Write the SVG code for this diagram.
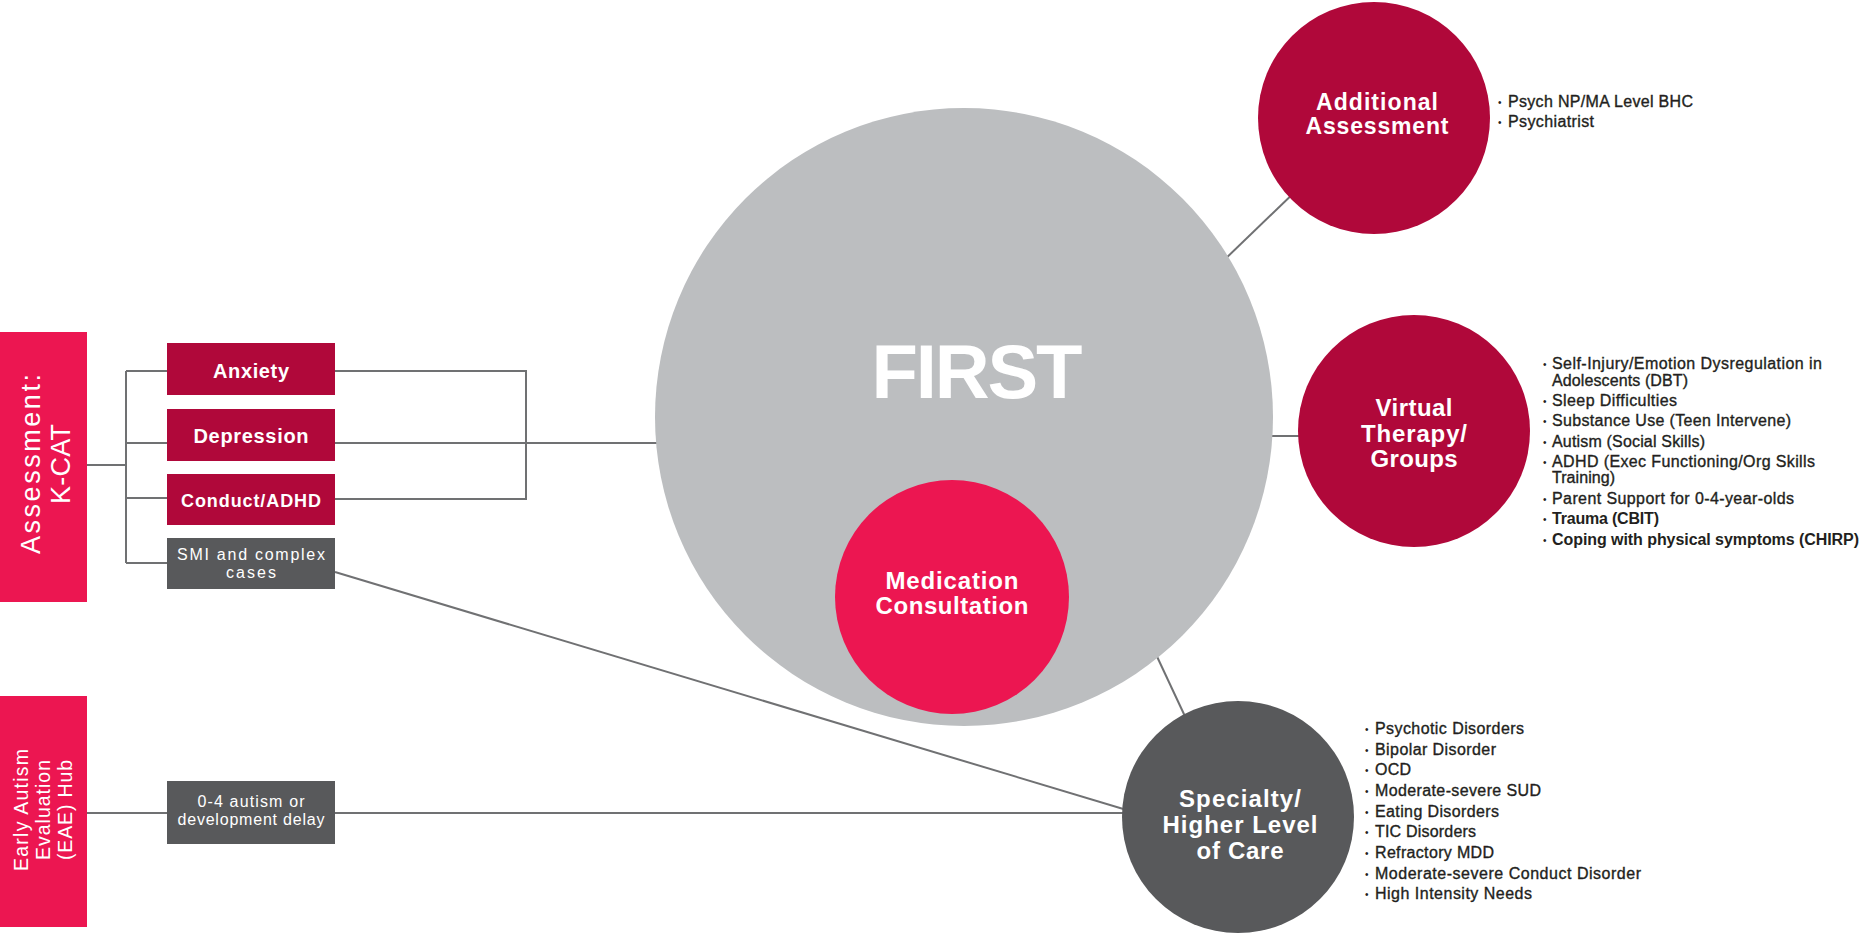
<svg xmlns="http://www.w3.org/2000/svg" width="1862" height="933" viewBox="0 0 1862 933">
  <style>
    .ln { fill: none; stroke: #707173; stroke-width: 2; }
    .crim { fill: #B0083A; }
    .red { fill: #EC1651; }
    .dk { fill: #58595B; }
    .lt { fill: #BCBEC0; }
    .w { fill: #FFFFFF; font-family: "Liberation Sans", Arial, sans-serif; }
    .m { text-anchor: middle; }
    .b { font-weight: bold; }
    .li { fill: #231F20; stroke: #231F20; stroke-width: 0.35; font-family: "Liberation Sans", Arial, sans-serif; font-size: 16px; }
    .li.b { stroke-width: 0; }
    .bu { fill: #231F20; font-family: "Liberation Sans", Arial, sans-serif; font-size: 10px; }
  </style>
  <rect width="1862" height="933" fill="#FFFFFF"/>

  <!-- connectors -->
  <g id="connectors">
    <path class="ln" d="M87,465 H126 M126,371 V563 M126,371 H167 M126,443 H167 M126,498 H167 M126,563 H167"/>
    <path class="ln" d="M335,371 H526 V499 H335 M335,443 H670"/>
    <path class="ln" d="M335,572 L1140,814"/>
    <path class="ln" d="M87,813 H167 M335,813 H1140"/>
    <path class="ln" d="M1220,264 L1300,187"/>
    <path class="ln" d="M1260,436 H1310"/>
    <path class="ln" d="M1153,648 L1190,727"/>
  </g>

  <!-- assessment entry -->
  <g id="kcat">
    <rect class="red" x="0" y="332" width="87" height="270"/>
    <g transform="translate(40,464) rotate(-90)">
      <text class="w m" font-size="27" textLength="180">Assessment:</text>
      <text class="w m" y="30" font-size="27" textLength="80">K-CAT</text>
    </g>
  </g>

  <g id="eae">
    <rect class="red" x="0" y="696" width="87" height="231"/>
    <g transform="translate(28,810) rotate(-90)">
      <text class="w m" font-size="19.5" textLength="122">Early Autism</text>
      <text class="w m" y="22" font-size="19.5" textLength="100">Evaluation</text>
      <text class="w m" y="44" font-size="19.5" textLength="100">(EAE) Hub</text>
    </g>
  </g>

  <!-- condition boxes -->
  <g id="anxiety">
    <rect class="crim" x="167" y="343" width="168" height="52"/>
    <text class="w m b" x="251" y="378" font-size="20" textLength="76">Anxiety</text>
  </g>
  <g id="depression">
    <rect class="crim" x="167" y="409" width="168" height="52"/>
    <text class="w m b" x="251" y="443" font-size="20" textLength="115">Depression</text>
  </g>
  <g id="conduct">
    <rect class="crim" x="167" y="474" width="168" height="51"/>
    <text class="w m b" x="251" y="507" font-size="18" textLength="140">Conduct/ADHD</text>
  </g>
  <g id="smi">
    <rect class="dk" x="167" y="538" width="168" height="51"/>
    <text class="w m" x="251" y="559.5" font-size="16" textLength="148">SMI and complex</text>
    <text class="w m" x="251" y="578" font-size="16" textLength="50">cases</text>
  </g>
  <g id="early-delay">
    <rect class="dk" x="167" y="781" width="168" height="63"/>
    <text class="w m" x="251" y="807" font-size="16" textLength="107">0-4 autism or</text>
    <text class="w m" x="251" y="825" font-size="16" textLength="147">development delay</text>
  </g>

  <!-- central service -->
  <g id="first">
    <circle class="lt" cx="964" cy="417" r="309"/>
    <text class="w m b" x="977" y="398" font-size="76" textLength="211">FIRST</text>
  </g>
  <g id="medication">
    <circle class="red" cx="952" cy="597" r="117"/>
    <text class="w m b" x="952" y="589" font-size="24" textLength="133">Medication</text>
    <text class="w m b" x="952" y="614" font-size="24" textLength="153">Consultation</text>
  </g>

  <!-- additional assessment -->
  <g id="additional">
    <circle class="crim" cx="1374" cy="118" r="116"/>
    <text class="w m b" x="1377" y="110" font-size="23" textLength="122">Additional</text>
    <text class="w m b" x="1377" y="134" font-size="23" textLength="143">Assessment</text>
    <text class="bu" x="1498" y="106">•</text>
    <text class="li" x="1508" y="107" textLength="185">Psych NP/MA Level BHC</text>
    <text class="bu" x="1498" y="126">•</text>
    <text class="li" x="1508" y="127" textLength="86">Psychiatrist</text>
  </g>

  <!-- virtual therapy -->
  <g id="virtual">
    <circle class="crim" cx="1414" cy="431" r="116"/>
    <text class="w m b" x="1414" y="416" font-size="24" textLength="77">Virtual</text>
    <text class="w m b" x="1414" y="442" font-size="24" textLength="106">Therapy/</text>
    <text class="w m b" x="1414" y="467" font-size="24" textLength="87">Groups</text>
    <text class="bu" x="1543" y="368">•</text>
    <text class="li" x="1552" y="369" textLength="270">Self-Injury/Emotion Dysregulation in</text>
    <text class="li" x="1552" y="386" textLength="136">Adolescents (DBT)</text>
    <text class="bu" x="1543" y="405">•</text>
    <text class="li" x="1552" y="406" textLength="125">Sleep Difficulties</text>
    <text class="bu" x="1543" y="425">•</text>
    <text class="li" x="1552" y="426" textLength="239">Substance Use (Teen Intervene)</text>
    <text class="bu" x="1543" y="446">•</text>
    <text class="li" x="1552" y="447" textLength="153">Autism (Social Skills)</text>
    <text class="bu" x="1543" y="466">•</text>
    <text class="li" x="1552" y="467" textLength="263">ADHD (Exec Functioning/Org Skills</text>
    <text class="li" x="1552" y="483" textLength="63">Training)</text>
    <text class="bu" x="1543" y="503">•</text>
    <text class="li" x="1552" y="504" textLength="242">Parent Support for 0-4-year-olds</text>
    <text class="bu" x="1543" y="523">•</text>
    <text class="li b" x="1552" y="524" font-size="15.5" textLength="107">Trauma (CBIT)</text>
    <text class="bu" x="1543" y="544">•</text>
    <text class="li b" x="1552" y="545" font-size="15.5" textLength="307">Coping with physical symptoms (CHIRP)</text>
  </g>

  <!-- specialty care -->
  <g id="specialty">
    <circle class="dk" cx="1238" cy="817" r="116"/>
    <text class="w m b" x="1240" y="807" font-size="24" textLength="122">Specialty/</text>
    <text class="w m b" x="1240" y="833" font-size="24" textLength="155">Higher Level</text>
    <text class="w m b" x="1240" y="859" font-size="24" textLength="87">of Care</text>
    <text class="bu" x="1365" y="733">•</text>
    <text class="li" x="1375" y="734" textLength="149">Psychotic Disorders</text>
    <text class="bu" x="1365" y="754">•</text>
    <text class="li" x="1375" y="755" textLength="121">Bipolar Disorder</text>
    <text class="bu" x="1365" y="774">•</text>
    <text class="li" x="1375" y="775" textLength="36">OCD</text>
    <text class="bu" x="1365" y="795">•</text>
    <text class="li" x="1375" y="796" textLength="166">Moderate-severe SUD</text>
    <text class="bu" x="1365" y="816">•</text>
    <text class="li" x="1375" y="817" textLength="124">Eating Disorders</text>
    <text class="bu" x="1365" y="836">•</text>
    <text class="li" x="1375" y="837" textLength="101">TIC Disorders</text>
    <text class="bu" x="1365" y="857">•</text>
    <text class="li" x="1375" y="858" textLength="119">Refractory MDD</text>
    <text class="bu" x="1365" y="878">•</text>
    <text class="li" x="1375" y="879" textLength="266">Moderate-severe Conduct Disorder</text>
    <text class="bu" x="1365" y="898">•</text>
    <text class="li" x="1375" y="899" textLength="157">High Intensity Needs</text>
  </g>
</svg>
